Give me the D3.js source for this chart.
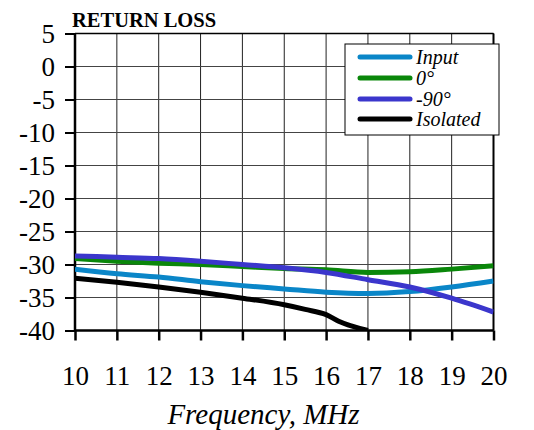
<!DOCTYPE html>
<html><head><meta charset="utf-8">
<script src="https://cdn.jsdelivr.net/npm/d3@7"></script>
<style>body{margin:0;background:#fff}</style>
</head><body>
<svg id="c" width="534" height="430"></svg>
<script>
const freq = [10, 11, 12, 13, 14, 15, 16, 17, 18, 19, 20];
const inputLoss = [-30.7, -31.4, -31.9, -32.6, -33.2, -33.7, -34.2, -34.4, -34.1, -33.4, -32.5];
const zeroLoss = [-29.1, -29.5, -29.8, -30.0, -30.3, -30.6, -30.8, -31.2, -31.1, -30.7, -30.2];
const m90Loss = [-28.7, -28.9, -29.1, -29.5, -30.0, -30.5, -31.2, -32.3, -33.4, -35.1, -37.2];
const isoFreq = [10, 11, 12, 13, 14, 15, 15.5, 16, 16.3, 17];
const isoLoss = [-32.1, -32.7, -33.4, -34.2, -35.1, -36.1, -36.8, -37.6, -38.6, -40.0];
const yTicks = [5, 0, -5, -10, -15, -20, -25, -30, -35, -40];
const seriesNames = ["Input", "0°", "-90°", "Isolated"];
const seriesColors = ["#0a86c8", "#0a870a", "#3b36cc", "#000000"];

const FONT = "'Liberation Serif'";
const svg = d3.select("#c");
const x = d3.scaleLinear().domain([10, 20]).range([75, 493.5]);
const y = d3.scaleLinear().domain([-40, 5]).range([330.5, 33.5]);

// grid
const g = svg.append("g");
g.selectAll(".vg").data(freq).join("line")
  .attr("x1", d => x(d)).attr("x2", d => x(d)).attr("y1", y(5)).attr("y2", y(-40))
  .attr("stroke", "#222").attr("stroke-width", 1);
g.selectAll(".hg").data(yTicks).join("line")
  .attr("x1", x(10)).attr("x2", x(20)).attr("y1", d => y(d)).attr("y2", d => y(d))
  .attr("stroke", "#444").attr("stroke-width", 1);

// frame
svg.append("line").attr("x1", x(10)).attr("x2", x(20)).attr("y1", y(5)).attr("y2", y(5)).attr("stroke", "#000").attr("stroke-width", 1.5);
svg.append("line").attr("x1", x(20)).attr("x2", x(20)).attr("y1", y(5)).attr("y2", y(-40)).attr("stroke", "#000").attr("stroke-width", 2);

// axes
const yAxis = d3.axisLeft(y).tickValues(yTicks).tickSize(10).tickPadding(10).tickFormat(d => String(d));
const ya = svg.append("g").attr("transform", `translate(${x(10)},0)`).call(yAxis);
ya.select(".domain").attr("stroke-width", 2.5).attr("d", `M0,${y(5)}V${y(-40)}`);
ya.selectAll(".tick line").attr("stroke-width", 2);
ya.selectAll("text").style("font-family", FONT).style("font-size", "27px").attr("fill", "#000").attr("dy", "0.34em");

const xAxis = d3.axisBottom(x).tickValues(freq).tickSize(10).tickPadding(25).tickFormat(d => String(d));
const xa = svg.append("g").attr("transform", `translate(0,${y(-40)})`).call(xAxis);
xa.select(".domain").attr("stroke-width", 2.5).attr("d", `M${x(10)},0H${x(20)}`);
xa.selectAll(".tick line").attr("stroke-width", 2.5);
xa.selectAll("text").style("font-family", FONT).style("font-size", "27px").attr("fill", "#000");

// lines
svg.append("clipPath").attr("id", "pc").append("rect")
  .attr("x", x(10)).attr("y", y(5)).attr("width", x(20) - x(10)).attr("height", y(-40) - y(5));
const line = d3.line().x(d => x(d[0])).y(d => y(d[1])).curve(d3.curveMonotoneX);
const data = [
  freq.map((f, i) => [f, inputLoss[i]]),
  freq.map((f, i) => [f, zeroLoss[i]]),
  freq.map((f, i) => [f, m90Loss[i]]),
  isoFreq.map((f, i) => [f, isoLoss[i]])
];
const drawOrder = [3, 0, 1, 2];
svg.append("g").attr("clip-path", "url(#pc)").selectAll("path").data(drawOrder).join("path")
  .attr("d", i => line(data[i])).attr("fill", "none")
  .attr("stroke", i => seriesColors[i]).attr("stroke-width", 5).attr("stroke-linejoin", "round");

// legend
const lg = svg.append("g");
lg.append("rect").attr("x", 345).attr("y", 44).attr("width", 154).attr("height", 91)
  .attr("fill", "#fff").attr("stroke", "#000").attr("stroke-width", 1);
const ly = [57, 78, 99, 119];
seriesNames.forEach((n, i) => {
  lg.append("line").attr("x1", 360).attr("x2", 410).attr("y1", ly[i]).attr("y2", ly[i])
    .attr("stroke", seriesColors[i]).attr("stroke-width", 5).attr("stroke-linecap", "round");
  lg.append("text").attr("x", 416).attr("y", ly[i] + 7).text(n)
    .style("font-family", FONT).style("font-style", "italic").style("font-size", "20px");
});

// title and axis label
svg.append("text").attr("x", 72).attr("y", 27).text("RETURN LOSS")
  .style("font-family", FONT).style("font-weight", "bold").style("font-size", "20.5px");
svg.append("text").attr("x", 263.5).attr("y", 424).attr("text-anchor", "middle").text("Frequency, MHz")
  .style("font-family", FONT).style("font-style", "italic").style("font-size", "29px");
</script>
</body></html>
